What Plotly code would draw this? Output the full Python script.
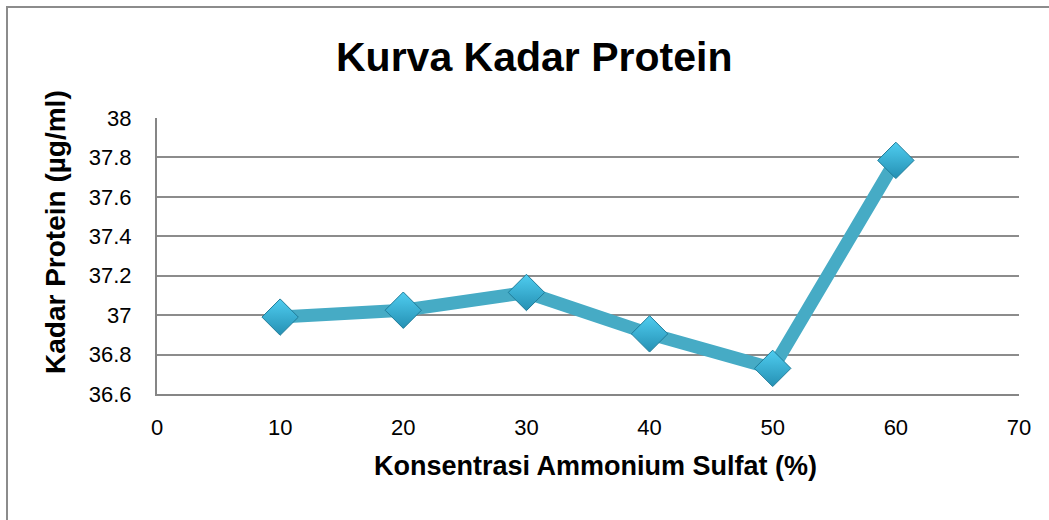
import plotly.graph_objects as go

konsentrasi = [10, 20, 30, 40, 50, 60]
kadar_protein = [36.99, 37.025, 37.115, 36.905, 36.73, 37.785]
x_ticks = [0, 10, 20, 30, 40, 50, 60, 70]
y_ticks = [36.6, 36.8, 37, 37.2, 37.4, 37.6, 37.8, 38]

FONT = "Liberation Sans, Arial, sans-serif"
W, H = 1049, 520
L, R, T, B = 157, 30, 118, 126
pw, ph = W - L - R, H - T - B

def px2paper_x(px):
    return (px - L) / pw

def px2paper_y(py):
    return (H - B - py) / ph

fig = go.Figure()
fig.add_trace(go.Scatter(
    x=konsentrasi, y=kadar_protein, mode="lines+markers",
    line=dict(color="#46abc5", width=13),
    marker=dict(symbol="diamond", size=28, color="#4fcdf0",
                gradient=dict(type="vertical", color="#2590b3"),
                line=dict(color="#1f7c99", width=1)),
    showlegend=False, hoverinfo="skip"))

fig.update_layout(
    width=W, height=H,
    margin=dict(l=L, r=R, t=T, b=B),
    paper_bgcolor="white", plot_bgcolor="white",
    font=dict(family=FONT, size=22, color="black"),
    xaxis=dict(range=[0, 70], tickvals=x_ticks, ticktext=[str(v) for v in x_ticks],
               showgrid=False, zeroline=False, showline=True, linecolor="#868686",
               linewidth=2, ticks="", ticklen=0, tickfont=dict(size=22),
               ticklabelstandoff=13),
    yaxis=dict(range=[36.6, 38], tickvals=y_ticks, ticktext=[f"{v:g}" for v in y_ticks],
               showgrid=True, gridcolor="#8c8c8c", gridwidth=2, zeroline=False,
               showline=True, linecolor="#868686", linewidth=2, ticks="",
               tickfont=dict(size=22), ticklabelstandoff=19),
    shapes=[dict(type="rect", xref="paper", yref="paper",
                 x0=px2paper_x(7), x1=px2paper_x(1060),
                 y0=px2paper_y(540), y1=px2paper_y(7),
                 line=dict(color="#8c8c8c", width=2), fillcolor="rgba(0,0,0,0)",
                 layer="below")],
    annotations=[
        dict(text="<b>Kurva Kadar Protein</b>", xref="paper", yref="paper",
             x=px2paper_x(534), y=px2paper_y(57), xanchor="center", yanchor="middle",
             showarrow=False, font=dict(size=41, family=FONT)),
        dict(text="<b>Konsentrasi Ammonium Sulfat (%)</b>", xref="paper", yref="paper",
             x=px2paper_x(595), y=px2paper_y(466), xanchor="center", yanchor="middle",
             showarrow=False, font=dict(size=27, family=FONT)),
        dict(text="<b>Kadar Protein (µg/ml)</b>", xref="paper", yref="paper",
             x=px2paper_x(55), y=px2paper_y(232), xanchor="center", yanchor="middle",
             textangle=-90, showarrow=False, font=dict(size=28, family=FONT)),
    ],
)

fig.write_html("out.html", config={"displayModeBar": False},
               post_script="document.body.style.margin='0';")
